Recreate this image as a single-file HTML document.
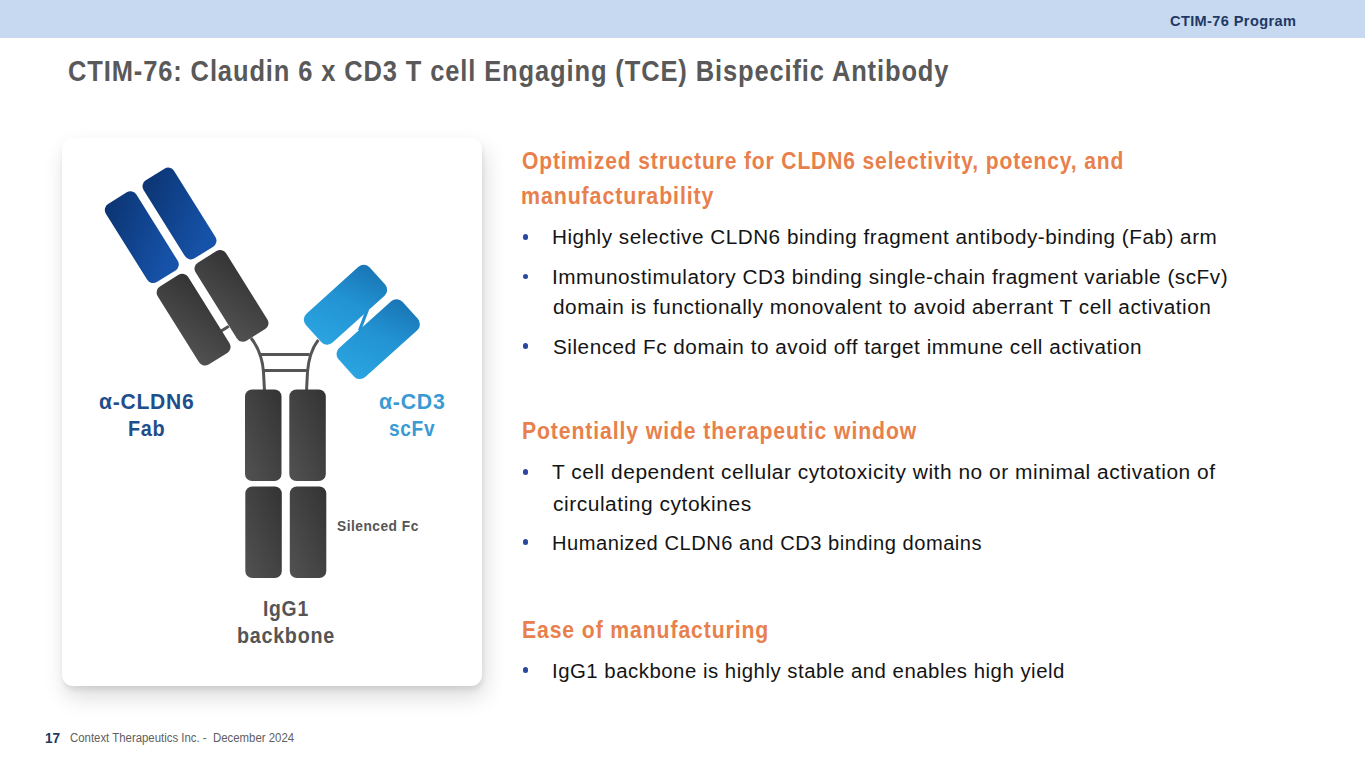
<!DOCTYPE html>
<html><head><meta charset="utf-8"><title>CTIM-76</title>
<style>
html,body{margin:0;padding:0;}
body{width:1365px;height:768px;position:relative;overflow:hidden;background:#fff;font-family:"Liberation Sans",sans-serif;}
.bar{position:absolute;left:0;top:0;width:1365px;height:38px;background:#C6D9F0;}
.card{position:absolute;left:62px;top:138px;width:420px;height:548px;border-radius:11px;background:#fff;box-shadow:1px 4px 5px rgba(0,0,0,0.08),3px 11px 22px rgba(0,0,0,0.14);}
.t{position:absolute;white-space:nowrap;transform-origin:0 0;}
.dot{position:absolute;width:5.6px;height:5.6px;border-radius:50%;background:#2A48A0;}
svg{position:absolute;left:0;top:0;}
</style></head><body>
<div class="bar"></div>
<div class="card"></div>
<svg width="1365" height="768" viewBox="0 0 1365 768">
<defs>
<linearGradient id="gB" x1="0" y1="0" x2="0.3" y2="1"><stop offset="0" stop-color="#0B3370"/><stop offset="1" stop-color="#1652A8"/></linearGradient>
<linearGradient id="gG" x1="1" y1="0" x2="0" y2="1"><stop offset="0" stop-color="#333333"/><stop offset="1" stop-color="#525252"/></linearGradient>
<linearGradient id="gL" x1="0" y1="0.6" x2="1" y2="0.4"><stop offset="0" stop-color="#2AA3E0"/><stop offset="0.55" stop-color="#2293D3"/><stop offset="1" stop-color="#1A78B8"/></linearGradient>
</defs>
<g fill="none" stroke="#555" stroke-width="3">
<path d="M251,338 Q262,352 263.5,372 L264.5,391"/>
<path d="M318.3,339.8 Q309,352 307.5,372 L306.5,391"/>
<path d="M260.5,354.4 H309.5"/>
<path d="M263,370.5 H307.4"/>
<path d="M220.4,331.5 L228.8,326.2"/>
</g>
<g transform="rotate(-32 141.8 237.2)"><rect x="123.8" y="191.2" width="36" height="92" rx="7" fill="url(#gB)"/></g>
<g transform="rotate(-32 179.5 213.5)"><rect x="161.5" y="167.5" width="36" height="92" rx="7" fill="url(#gB)"/></g>
<g transform="rotate(-32 193.6 319.7)"><rect x="175.6" y="273.7" width="36" height="92" rx="7" fill="url(#gG)"/></g>
<g transform="rotate(-32 231.5 295.9)"><rect x="213.5" y="249.9" width="36" height="92" rx="7" fill="url(#gG)"/></g>
<rect x="245" y="389.5" width="36.5" height="91.5" rx="7" fill="url(#gG)"/>
<rect x="289.3" y="389.5" width="36.5" height="91.5" rx="7" fill="url(#gG)"/>
<rect x="245.3" y="486.5" width="36.5" height="91.5" rx="7" fill="url(#gG)"/>
<rect x="289.8" y="486.5" width="36.5" height="91.5" rx="7" fill="url(#gG)"/>
<path d="M367.5,309.5 L359.5,330.5" stroke="#2290D0" stroke-width="3.2" fill="none"/>
<g transform="rotate(-42 345.5 304.7)"><rect x="302.5" y="285.2" width="86" height="39" rx="8" fill="url(#gL)"/></g>
<g transform="rotate(-42 378.2 339.1)"><rect x="335.2" y="319.6" width="86" height="39" rx="8" fill="url(#gL)"/></g>
</svg>

<div class="dot" style="left:522.6px;top:234.0px"></div><div class="dot" style="left:522.6px;top:273.8px"></div><div class="dot" style="left:522.6px;top:343.4px"></div><div class="dot" style="left:522.6px;top:469.0px"></div><div class="dot" style="left:522.6px;top:539.3px"></div><div class="dot" style="left:522.6px;top:667.4px"></div>
<div class="t" style="left:1169.56px;top:13.00px;font-size:15.5px;font-weight:700;line-height:15.5px;color:#1F3864;transform:scaleX(0.9402);letter-spacing:0.4px;">CTIM-76 Program</div>
<div class="t" style="left:68.12px;top:57.20px;font-size:29px;font-weight:700;line-height:29px;color:#595959;transform:scaleX(0.8790);letter-spacing:1.0px;">CTIM-76: Claudin 6 x CD3 T cell Engaging (TCE) Bispecific Antibody</div>
<div class="t" style="left:522.12px;top:149.30px;font-size:24px;font-weight:700;line-height:24px;color:#E8804C;transform:scaleX(0.8760);letter-spacing:1.0px;">Optimized structure for CLDN6 selectivity, potency, and</div>
<div class="t" style="left:521.22px;top:184.00px;font-size:24px;font-weight:700;line-height:24px;color:#E8804C;transform:scaleX(0.8911);letter-spacing:1.0px;">manufacturability</div>
<div class="t" style="left:551.63px;top:227.30px;font-size:20px;font-weight:400;line-height:20px;color:#141414;transform:scaleX(1.0342);letter-spacing:0.5px;">Highly selective CLDN6 binding fragment antibody-binding (Fab) arm</div>
<div class="t" style="left:551.62px;top:267.10px;font-size:20px;font-weight:400;line-height:20px;color:#141414;transform:scaleX(1.0378);letter-spacing:0.5px;">Immunostimulatory CD3 binding single-chain fragment variable (scFv)</div>
<div class="t" style="left:552.66px;top:297.00px;font-size:20px;font-weight:400;line-height:20px;color:#141414;transform:scaleX(1.0402);letter-spacing:0.5px;">domain is functionally monovalent to avoid aberrant T cell activation</div>
<div class="t" style="left:552.66px;top:336.75px;font-size:20px;font-weight:400;line-height:20px;color:#141414;transform:scaleX(1.0366);letter-spacing:0.5px;">Silenced Fc domain to avoid off target immune cell activation</div>
<div class="t" style="left:522.23px;top:419.30px;font-size:24px;font-weight:700;line-height:24px;color:#E8804C;transform:scaleX(0.8838);letter-spacing:1.0px;">Potentially wide therapeutic window</div>
<div class="t" style="left:551.80px;top:462.30px;font-size:20px;font-weight:400;line-height:20px;color:#141414;transform:scaleX(1.0461);letter-spacing:0.5px;">T cell dependent cellular cytotoxicity with no or minimal activation of</div>
<div class="t" style="left:552.65px;top:493.60px;font-size:20px;font-weight:400;line-height:20px;color:#141414;transform:scaleX(1.0487);letter-spacing:0.5px;">circulating cytokines</div>
<div class="t" style="left:551.69px;top:532.60px;font-size:20px;font-weight:400;line-height:20px;color:#141414;transform:scaleX(1.0061);letter-spacing:0.5px;">Humanized CLDN6 and CD3 binding domains</div>
<div class="t" style="left:521.53px;top:617.60px;font-size:24px;font-weight:700;line-height:24px;color:#E8804C;transform:scaleX(0.8833);letter-spacing:1.0px;">Ease of manufacturing</div>
<div class="t" style="left:551.66px;top:660.70px;font-size:20px;font-weight:400;line-height:20px;color:#141414;transform:scaleX(1.0186);letter-spacing:0.5px;">IgG1 backbone is highly stable and enables high yield</div>
<div class="t" style="left:99.14px;top:391.20px;font-size:22px;font-weight:700;line-height:22px;color:#1F4E8C;transform:scaleX(0.9567);letter-spacing:0.8px;">α-CLDN6</div>
<div class="t" style="left:128.20px;top:418.40px;font-size:22px;font-weight:700;line-height:22px;color:#1F4E8C;transform:scaleX(0.9026);letter-spacing:0.8px;">Fab</div>
<div class="t" style="left:379.23px;top:390.80px;font-size:22px;font-weight:700;line-height:22px;color:#3A9AD4;transform:scaleX(0.9667);letter-spacing:0.8px;">α-CD3</div>
<div class="t" style="left:389.13px;top:418.20px;font-size:22px;font-weight:700;line-height:22px;color:#3A9AD4;transform:scaleX(0.8667);letter-spacing:0.8px;">scFv</div>
<div class="t" style="left:336.92px;top:518.80px;font-size:14px;font-weight:700;line-height:14px;color:#555555;transform:scaleX(0.9815);letter-spacing:0.5px;">Silenced Fc</div>
<div class="t" style="left:262.92px;top:597.60px;font-size:22px;font-weight:700;line-height:22px;color:#555555;transform:scaleX(0.8800);letter-spacing:0.8px;">IgG1</div>
<div class="t" style="left:237.10px;top:624.80px;font-size:22px;font-weight:700;line-height:22px;color:#555555;transform:scaleX(0.8972);letter-spacing:0.8px;">backbone</div>
<div class="t" style="left:44.63px;top:731.00px;font-size:14px;font-weight:700;line-height:14px;color:#1F3864;transform:scaleX(0.9714);">17</div>
<div class="t" style="left:70.35px;top:732.20px;font-size:12px;font-weight:400;line-height:12px;color:#606060;transform:scaleX(0.9498);">Context Therapeutics Inc. -  December 2024</div>
</body></html>
